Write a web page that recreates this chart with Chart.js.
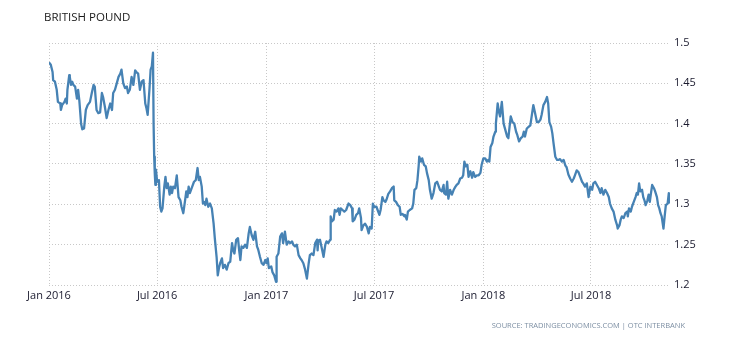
<!DOCTYPE html>
<html>
<head>
<meta charset="utf-8">
<script src="https://cdn.jsdelivr.net/npm/chart.js@4"></script>
<style>
  html, body { margin: 0; padding: 0; background: #fff; }
  #wrap { position: relative; width: 730px; height: 340px; }
  #title { position: absolute; left: 44px; top: 9px; font: 11.5px "Open Sans", sans-serif; color: #1a1a1a; }
  #source { position: absolute; right: 45px; top: 320px; font: 7.5px "Open Sans", sans-serif; color: #7d8fa3; }
</style>
</head>
<body>
<div id="wrap">
  <canvas id="chart" width="730" height="340"></canvas>
  <div id="title">BRITISH POUND</div>
  <div id="source">SOURCE: TRADINGECONOMICS.COM | OTC INTERBANK</div>
</div>
<script>
// GBP/USD, Jan 2016 - Nov 2018 (days counted from 1 Jan 2016)
const days = [
  0,3,6,7,10,13,15,19,20,22,26,28,30,31,34,35,37,39,41,44,47,49,51,54,56,59,62,65,69,72,75,77,80,83,86,89,91,94,97,100,
  103,106,108,111,114,117,120,122,125,128,131,133,136,139,142,145,147,150,153,156,159,162,164,166,169,171,173,175,176,177,
  178,179,180,182,185,187,189,191,194,196,198,200,203,205,207,209,212,215,218,221,223,226,229,231,233,235,237,241,244,247,
  250,252,254,257,259,261,263,265,268,271,274,277,279,282,284,286,288,291,293,296,299,302,305,308,310,312,315,318,320,322,
  324,327,330,333,336,338,341,344,347,350,352,355,358,361,364,366,368,370,374,376,379,382,383,386,389,392,394,397,400,403,
  406,409,411,414,417,420,423,425,428,431,434,437,439,442,445,448,451,452,453,456,459,462,465,467,470,473,474,476,479,481,
  484,487,489,491,494,497,500,504,507,510,511,514,517,520,522,525,526,529,532,535,538,540,543,545,547,551,553,556,558,561,
  563,566,568,571,574,577,580,581,584,587,590,592,595,598,599,602,604,607,611,613,615,618,620,622,623,626,628,631,634,636,
  639,641,644,647,650,653,655,658,661,664,665,668,670,672,675,678,681,684,686,689,692,695,697,699,701,704,706,709,712,714,
  717,720,723,726,728,731,734,737,739,741,743,746,748,751,752,755,757,759,762,765,768,771,773,775,777,780,783,786,788,791,
  794,797,799,801,804,807,810,813,815,818,821,824,827,829,832,835,838,840,842,845,847,849,852,855,857,860,863,866,869,871,
  874,877,880,883,885,888,891,894,897,899,902,905,908,911,914,916,919,922,925,928,930,933,936,939,942,944,947,950,953,956,
  957,960,962,964,967,970,973,974,976,979,981,984,987,989,991,993,995,998,1000,1002,1004,1007,1009,1011,1013,1015,1018,1020,1023,1025,
  1027,1029,1031,1034,1036,1038,1041,1043,1045
];
const rates = [
  1.476,1.473,1.464,1.454,1.452,1.442,1.427,1.425,1.417,1.423,1.427,1.431,1.425,1.442,1.460,1.458,1.448,1.452,1.448,1.446,1.431,1.442,1.429,1.400,1.393,1.394,1.417,1.423,1.427,1.438,1.448,1.446,1.417,1.413,1.414,1.438,1.433,1.421,1.407,1.417,
  1.425,1.417,1.438,1.442,1.450,1.458,1.462,1.467,1.450,1.444,1.446,1.438,1.442,1.458,1.448,1.466,1.464,1.462,1.442,1.452,1.454,1.425,1.419,1.411,1.442,1.467,1.471,1.488,1.400,1.359,
  1.338,1.324,1.343,1.328,1.330,1.297,1.291,1.295,1.322,1.334,1.320,1.326,1.312,1.322,1.314,1.322,1.320,1.336,1.309,1.305,1.297,1.289,1.305,1.316,1.309,1.322,1.314,1.322,1.328,1.330,
  1.345,1.330,1.334,1.322,1.301,1.303,1.299,1.307,1.297,1.301,1.295,1.276,1.258,1.235,1.212,1.221,1.227,1.233,1.221,1.225,1.219,1.227,1.229,1.252,1.243,1.239,1.256,1.258,1.243,1.231,
  1.248,1.246,1.250,1.246,1.264,1.272,1.262,1.256,1.266,1.248,1.244,1.235,1.227,1.225,1.231,1.227,1.233,1.221,1.223,1.216,1.212,1.204,1.235,1.239,1.260,1.264,1.252,1.266,1.250,1.254,
  1.252,1.254,1.250,1.248,1.250,1.237,1.233,1.231,1.227,1.219,1.208,1.227,1.237,1.239,1.237,1.252,1.256,1.243,1.254,1.256,1.246,1.235,1.250,1.254,1.252,1.256,1.285,1.279,1.281,1.293,
  1.291,1.295,1.287,1.295,1.293,1.291,1.293,1.301,1.299,1.295,1.279,1.281,1.287,1.289,1.295,1.283,1.268,1.274,1.276,1.272,1.264,1.272,1.270,1.301,1.297,1.297,1.293,1.287,1.293,1.309,
  1.305,1.303,1.306,1.313,1.316,1.320,1.322,1.305,1.303,1.299,1.297,1.287,1.288,1.285,1.287,1.281,1.291,1.293,1.295,1.301,1.318,1.320,1.330,1.347,1.359,1.353,1.357,1.349,1.347,1.339,
  1.330,1.318,1.307,1.314,1.326,1.328,1.324,1.318,1.316,1.324,1.314,1.312,1.328,1.307,1.318,1.312,1.318,1.322,1.324,1.326,1.332,1.333,1.336,1.353,1.347,1.349,1.334,1.341,1.333,1.340,
  1.334,1.336,1.336,1.339,1.349,1.357,1.357,1.353,1.355,1.353,1.371,1.376,1.384,1.390,1.400,1.425,1.415,1.409,1.427,1.400,1.392,1.384,1.382,1.396,1.409,1.402,1.400,1.390,1.386,1.378,
  1.382,1.384,1.390,1.384,1.394,1.396,1.398,1.413,1.423,1.413,1.402,1.402,1.405,1.411,1.423,1.427,1.433,1.425,1.402,1.396,1.388,1.376,1.359,1.355,1.355,1.356,1.353,1.355,1.348,1.346,
  1.337,1.332,1.328,1.332,1.336,1.342,1.340,1.334,1.328,1.326,1.322,1.326,1.309,1.322,1.318,1.326,1.328,1.324,1.320,1.314,1.320,1.312,1.318,1.314,1.309,1.301,1.295,1.291,1.281,1.274,
  1.270,1.274,1.281,1.285,1.283,1.289,1.291,1.285,1.295,1.291,1.297,1.303,1.309,1.314,1.312,1.326,1.316,1.318,1.309,1.305,1.299,1.305,1.312,1.303,1.314,1.324,1.320,1.316,1.309,1.299,
  1.295,1.289,1.285,1.270,1.285,1.299,1.301,1.314,1.301
];
const tickDays   = [0, 182, 366, 547, 731, 912];
const tickLabels = ['Jan 2016', 'Jul 2016', 'Jan 2017', 'Jul 2017', 'Jan 2018', 'Jul 2018'];

const gridColor = '#c8c8c8';
const textColor = '#1a1a2e';

const points = days.map((d, i) => ({ x: d, y: rates[i] }));

new Chart(document.getElementById('chart'), {
  type: 'line',
  data: {
    datasets: [{
      data: points,
      borderColor: '#4682b4',
      borderWidth: 2.3,
      borderJoinStyle: 'round',
      pointRadius: 0,
      tension: 0,
      fill: false
    }]
  },
  options: {
    responsive: false,
    animation: false,
    events: [],
    layout: { padding: { left: 49, right: 0, top: 43, bottom: 34 } },
    plugins: { legend: { display: false }, tooltip: { enabled: false } },
    scales: {
      x: {
        type: 'linear',
        min: 0,
        max: 1045,
        afterBuildTicks: s => { s.ticks = tickDays.map(v => ({ value: v })); },
        afterFit: s => { s.height = 21; },
        ticks: {
          autoSkip: false,
          maxRotation: 0,
          padding: 4,
          color: textColor,
          font: { family: 'Open Sans', size: 11 },
          callback: v => tickLabels[tickDays.indexOf(v)] ?? ''
        },
        grid: { color: gridColor, lineWidth: 1, drawTicks: false },
        border: { display: false, dash: [1, 2] }
      },
      y: {
        position: 'right',
        min: 1.2,
        max: 1.5,
        afterFit: s => { s.width = 60; },
        ticks: {
          stepSize: 0.05,
          padding: 4,
          color: textColor,
          font: { family: 'Open Sans', size: 11 },
          callback: v => String(+v.toFixed(2))
        },
        grid: { color: gridColor, lineWidth: 1, drawTicks: false },
        border: { display: false, dash: [1, 2] }
      }
    }
  }
});
</script>
</body>
</html>
